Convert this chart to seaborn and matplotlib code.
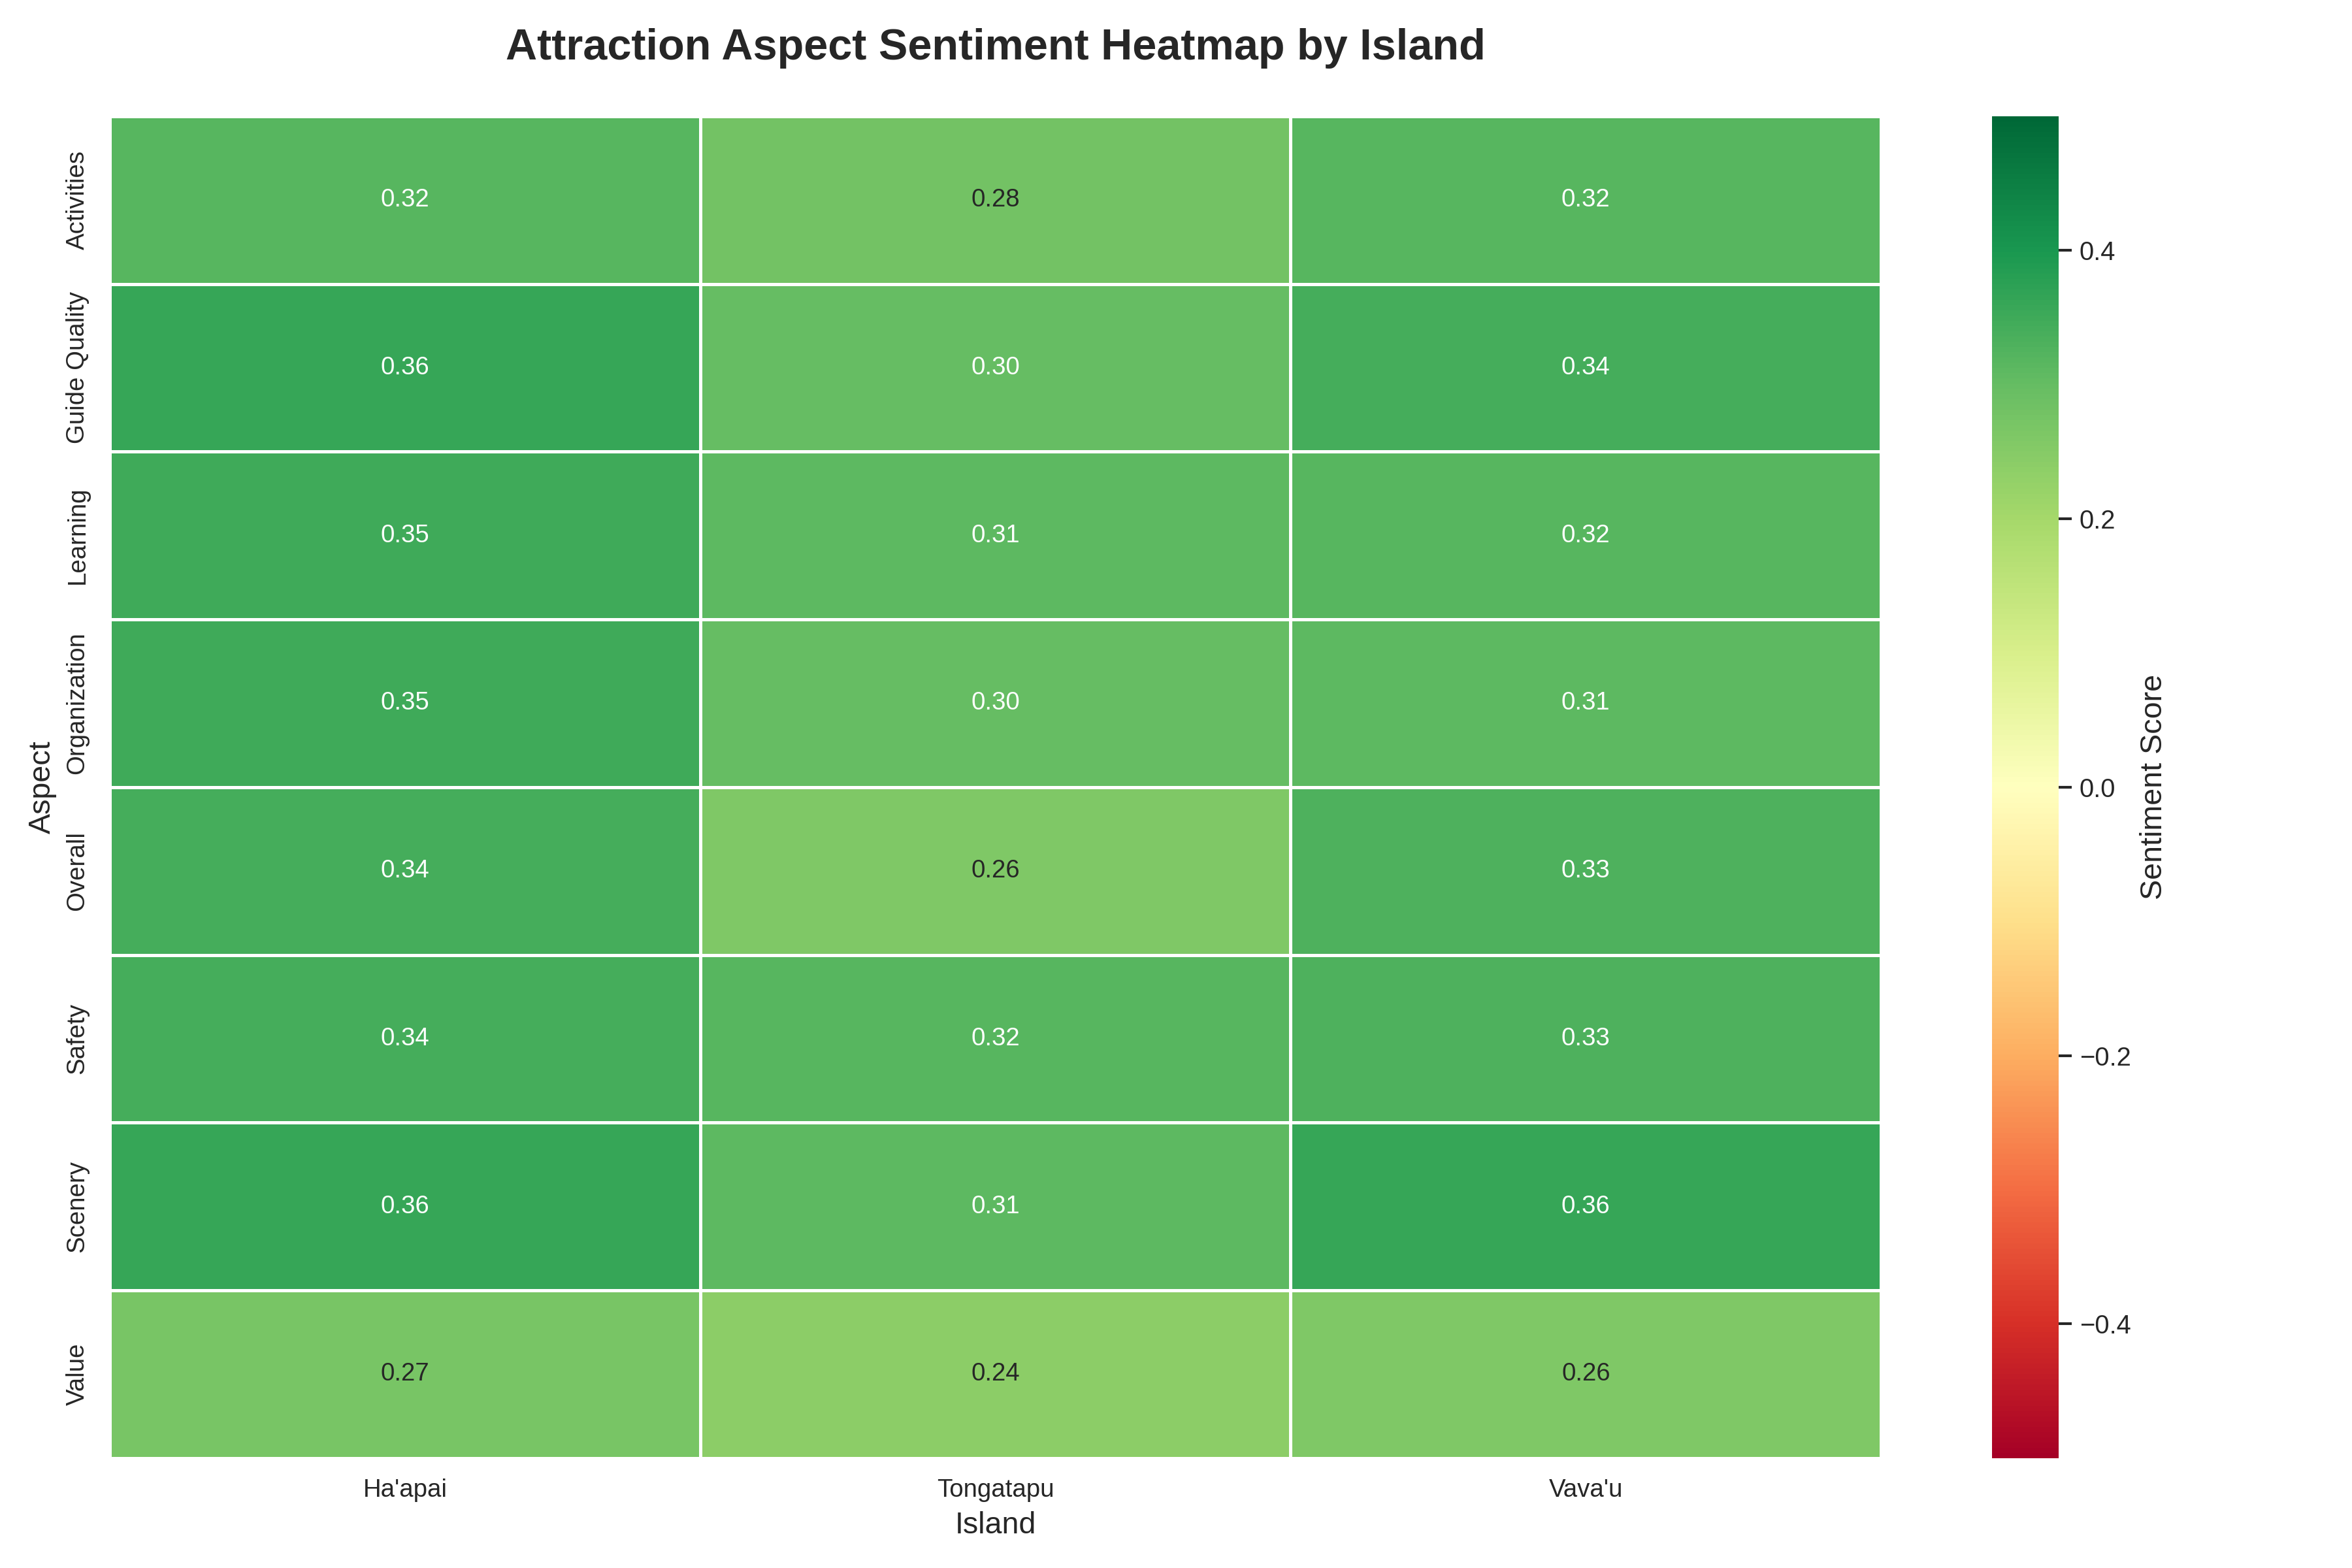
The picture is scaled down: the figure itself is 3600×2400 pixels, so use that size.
import matplotlib
matplotlib.use("Agg")
import matplotlib.pyplot as plt
import seaborn as sns
import pandas as pd
import numpy as np

aspects = ["Activities", "Guide Quality", "Learning", "Organization", "Overall", "Safety", "Scenery", "Value"]
islands = ["Ha'apai", "Tongatapu", "Vava'u"]
haapai = [0.32, 0.36, 0.35, 0.35, 0.34, 0.34, 0.36, 0.27]
tongatapu = [0.28, 0.30, 0.31, 0.30, 0.26, 0.32, 0.31, 0.24]
vavau = [0.32, 0.34, 0.32, 0.31, 0.33, 0.33, 0.36, 0.26]

df = pd.DataFrame({"Ha'apai": haapai, "Tongatapu": tongatapu, "Vava'u": vavau}, index=aspects)
df.index.name = "Aspect"
df.columns.name = "Island"

sns.set_theme(style="white")
plt.rcParams['font.family'] = ['Liberation Sans', 'DejaVu Sans']

fig, ax = plt.subplots(figsize=(15, 10), dpi=240)
sns.heatmap(df, cmap="RdYlGn", vmin=-0.5, vmax=0.5, annot=True, fmt=".2f",
            linewidths=1, linecolor="white", ax=ax,
            cbar_kws={"label": "Sentiment Score"}, annot_kws={"fontsize": 11.5})
ax.set_title("Attraction Aspect Sentiment Heatmap by Island", fontsize=20, fontweight="bold", pad=26)
ax.set_xlabel("Island", fontsize=14)
ax.set_ylabel("Aspect", fontsize=14)
ax.tick_params(axis='both', labelsize=11.5)
plt.setp(ax.get_yticklabels(), rotation=90, va="center")
cbar = ax.collections[0].colorbar
cbar.ax.tick_params(labelsize=12)
cbar.set_label("Sentiment Score", fontsize=14)
plt.tight_layout()
fig.savefig("out.png", dpi=240)
